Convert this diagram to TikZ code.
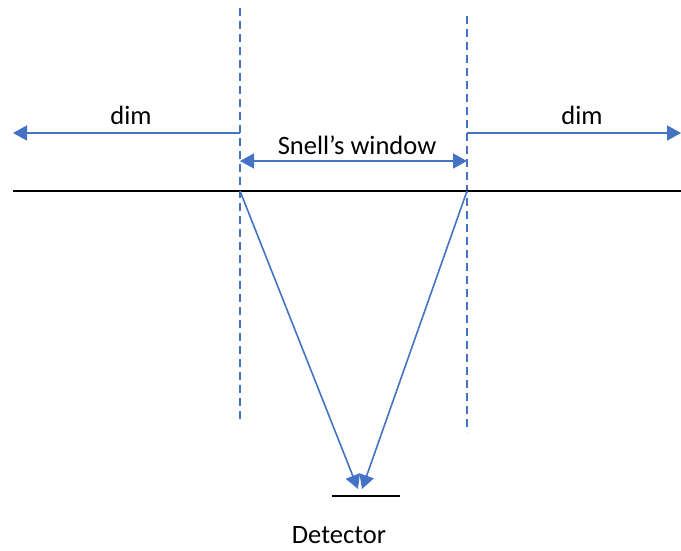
\documentclass[tikz,border=0pt]{standalone}
\usepackage{fontspec}
\setmainfont{Carlito}
\usetikzlibrary{arrows.meta}
\definecolor{obl}{HTML}{4472C4}
\tikzset{
  blueline/.style={draw=obl, line width=1.6pt},
  dashline/.style={draw=obl, line width=1.4pt, dash pattern=on 8pt off 5pt},
  arr/.style={-{Triangle[length=14pt,width=15pt]}},
  lbl/.style={font=\fontsize{26.5}{30}\selectfont, inner sep=0pt}
}
\begin{document}
\begin{tikzpicture}[x=1pt,y=-1pt]
\useasboundingbox (0,0) rectangle (681,550);
% dashed verticals
\coordinate (lt) at (240,8);
\coordinate (lb) at (240,422);
\coordinate (rt) at (467,16);
\coordinate (rb) at (467,432);
\draw[dashline] (lt) -- (lb);
\draw[dashline] (rt) -- (rb);
% surface
\coordinate (sl) at (13,191);
\coordinate (sr) at (681,191);
\draw[black, line width=1.4pt] (sl) -- (sr);
% dim arrows
\coordinate (dl0) at (240,133);
\coordinate (dl1) at (13,133);
\coordinate (dr0) at (467,133);
\coordinate (dr1) at (681,133);
\draw[blueline, arr] (dl0) -- (dl1);
\draw[blueline, arr] (dr0) -- (dr1);
\node[lbl] (diml) at (131,115) {dim};
\node[lbl] (dimr) at (582,115) {dim};
% Snell's window
\coordinate (wl) at (240,161);
\coordinate (wr) at (467,161);
\draw[blueline, {Triangle[length=14pt,width=15pt]}-{Triangle[length=14pt,width=15pt]}] (wl) -- (wr);
\node[lbl] (sw) at (357,145) {Snell’s window};
% rays
\coordinate (al) at (240,191);
\coordinate (ar) at (467,191);
\coordinate (tl) at (358,489);
\coordinate (tr) at (362,489);
\draw[blueline, arr] (al) -- (tl);
\draw[blueline, arr] (ar) -- (tr);
% detector
\coordinate (d0) at (332,496);
\coordinate (d1) at (400,496);
\draw[black, line width=1.4pt] (d0) -- (d1);
\node[lbl] (det) at (339,535) {Detector};
\end{tikzpicture}
\end{document}
